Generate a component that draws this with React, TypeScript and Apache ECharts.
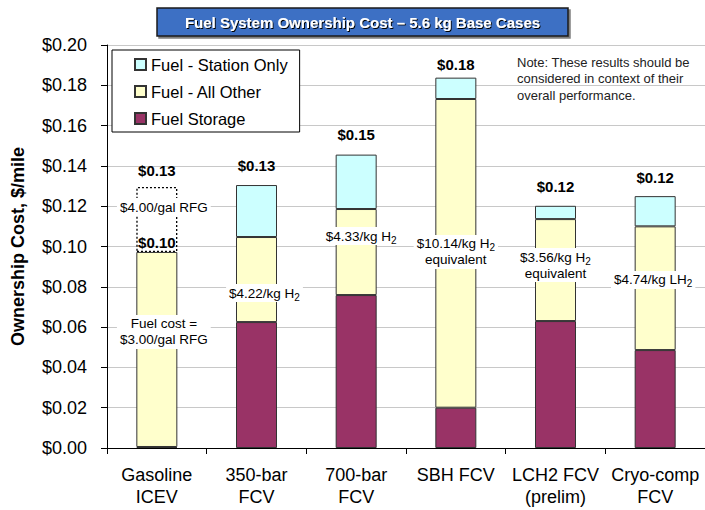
import React, { useEffect, useRef } from "react";
import * as echarts from "echarts";

const categories = ["Gasoline\nICEV", "350-bar\nFCV", "700-bar\nFCV", "SBH FCV", "LCH2 FCV\n(prelim)", "Cryo-comp\nFCV"];
const fuelStorage = [0.0005, 0.0625, 0.0759, 0.02, 0.063, 0.0486];
const fuelAllOther = [0.0968, 0.0422, 0.0427, 0.1532, 0.0506, 0.0614];
const fuelStationOnly = [null, 0.0258, 0.027, 0.0106, 0.0066, 0.015];
const rfgAt4 = [0.0322, null, null, null, null, null];
const totalLabels = ["$0.13", "$0.13", "$0.15", "$0.18", "$0.12", "$0.12"];
const yTicks = [0, 0.02, 0.04, 0.06, 0.08, 0.1, 0.12, 0.14, 0.16, 0.18, 0.2];
const annotations = [
  { cat: 0, y: 0.1196, text: "$4.00/gal RFG" },
  { cat: 0, y: 0.0576, text: "Fuel cost =\n$3.00/gal RFG" },
  { cat: 1, y: 0.0769, text: "$4.22/kg H{sub|2}" },
  { cat: 2, y: 0.1052, text: "$4.33/kg H{sub|2}" },
  { cat: 3, y: 0.0973, text: "$10.14/kg H{sub|2}\nequivalent" },
  { cat: 4, y: 0.0908, text: "$3.56/kg H{sub|2}\nequivalent" },
  { cat: 5, y: 0.0834, text: "$4.74/kg LH{sub|2}" },
];
const annotationShift = [7, 7, 8, 5, 0, 0, -2];

const FONT = "Liberation Sans, Arial, Helvetica, sans-serif";

export default function App() {
  const ref = useRef<HTMLDivElement>(null);
  useEffect(() => {
    if (!ref.current) return;
    const chart = echarts.init(ref.current, null, { renderer: "svg" });
    const topLabel = (i: number, dist: number) => ({
      show: true,
      position: "top",
      distance: dist,
      formatter: totalLabels[i],
      fontFamily: FONT,
      fontSize: 15,
      fontWeight: "bold",
      color: "#000",
    });
    const topDist = [9, 12, 13, 6, 12, 11];
    const border = { borderColor: "#333", borderWidth: 1 };
    chart.setOption({
      animation: false,
      textStyle: { fontFamily: FONT },
      grid: { left: 107, top: 45, width: 600, height: 403 },
      legend: {
        data: ["Fuel - Station Only", "Fuel - All Other", "Fuel Storage"],
        orient: "vertical",
        left: 112,
        top: 50,
        width: 188,
        backgroundColor: "#fff",
        borderColor: "#000",
        borderWidth: 1,
        padding: [6, 12, 5, 22],
        itemWidth: 11,
        itemHeight: 11,
        itemGap: 10,
        icon: "rect",
        textStyle: { fontFamily: FONT, fontSize: 16.5, color: "#000", lineHeight: 17 },
      },
      xAxis: {
        type: "category",
        data: categories,
        axisLine: { lineStyle: { color: "#000", width: 1 } },
        axisTick: { show: true, length: 6, lineStyle: { color: "#000" } },
        axisLabel: { interval: 0, fontFamily: FONT, fontSize: 18, color: "#000", lineHeight: 22, margin: 16 },
      },
      yAxis: {
        type: "value",
        min: 0,
        max: 0.2,
        interval: 0.02,
        name: "Ownership Cost, $/mile",
        nameLocation: "middle",
        nameGap: 80,
        nameTextStyle: { fontFamily: FONT, fontSize: 18, fontWeight: "bold", color: "#000" },
        axisLine: { show: true, lineStyle: { color: "#000", width: 1 } },
        axisTick: { show: true, length: 6, lineStyle: { color: "#000" } },
        axisLabel: {
          fontFamily: FONT,
          fontSize: 18,
          color: "#000",
          margin: 20,
          formatter: (v: number) => (yTicks.some((t) => Math.abs(t - v) < 1e-9) ? "$" + v.toFixed(2) : ""),
        },
        splitLine: { show: true, lineStyle: { color: "#c8c8c8", width: 1 } },
      },
      series: [
        {
          name: "Fuel Storage",
          type: "bar",
          stack: "cost",
          barWidth: 41,
          itemStyle: { color: "#993366", ...border },
          data: fuelStorage,
        },
        {
          name: "Fuel - All Other",
          type: "bar",
          stack: "cost",
          barWidth: 41,
          itemStyle: { color: "#FFFFCC", ...border },
          data: fuelAllOther.map((v, i) =>
            i === 0
              ? { value: v, label: { ...topLabel(0, 2), formatter: "$0.10" } }
              : v
          ),
          markPoint: {
            symbol: "circle",
            symbolSize: 1,
            itemStyle: { color: "rgba(0,0,0,0)" },
            z: 10,
            label: {
              show: true,
              position: "inside",
              formatter: "{b}",
              fontFamily: FONT,
              fontSize: 13.5,
              lineHeight: 16,
              color: "#000",
              backgroundColor: "#fff",
              padding: [1, 3],
              rich: {
                sub: { fontFamily: FONT, fontSize: 10, color: "#000", padding: [8, 0, 0, 0], lineHeight: 16 },
              },
            },
            data: annotations.map((a, i) => ({
              name: a.text,
              coord: [a.cat, a.y],
              label: { offset: [annotationShift[i], 0] },
            })),
          },
        },
        {
          name: "Fuel - Station Only",
          type: "bar",
          stack: "cost",
          barWidth: 41,
          itemStyle: { color: "#CCFFFF", ...border },
          data: fuelStationOnly.map((v, i) =>
            v == null ? null : { value: v, label: topLabel(i, topDist[i]) }
          ),
        },
        {
          name: "RFG $4.00",
          type: "bar",
          stack: "cost",
          barWidth: 41,
          itemStyle: { color: "rgba(255,255,255,0)", borderColor: "#000", borderWidth: 1.3, borderType: [2, 2] },
          data: rfgAt4.map((v, i) => (v == null ? null : { value: v, label: topLabel(i, topDist[i]) })),
        },
      ],
      graphic: [
        {
          type: "rect",
          shape: { x: 157, y: 8, width: 411, height: 28 },
          style: { fill: "#3D6FC4", stroke: "#1a1a1a", lineWidth: 1.5, shadowColor: "rgba(0,0,0,0.5)", shadowOffsetX: 2, shadowOffsetY: 2 },
          z: 20,
        },
        {
          type: "text",
          x: 362.5,
          y: 22,
          z: 21,
          style: {
            text: "Fuel System Ownership Cost – 5.6 kg Base Cases",
            fill: "#fff",
            font: `bold 15px ${FONT}`,
            align: "center",
            verticalAlign: "middle",
            textShadowColor: "#000",
            textShadowOffsetX: 1,
            textShadowOffsetY: 1,
            textShadowBlur: 1,
          },
        },
        {
          type: "text",
          x: 517,
          y: 54,
          z: 21,
          style: {
            text: "Note: These results should be\nconsidered in context of their\noverall performance.",
            fill: "#222",
            font: `13px ${FONT}`,
            lineHeight: 16.5,
            align: "left",
            verticalAlign: "top",
          },
        },
      ],
    });
    return () => chart.dispose();
  }, []);
  return <div ref={ref} style={{ position: "fixed", left: 0, top: 0, width: 705, height: 510, background: "#fff" }} />;
}
